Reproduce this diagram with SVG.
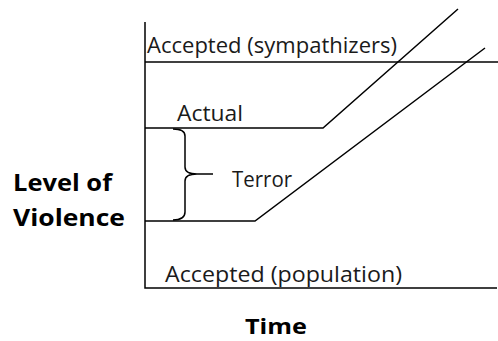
<svg xmlns="http://www.w3.org/2000/svg" width="498" height="341" viewBox="0 0 498 341">
<style>
.ln{stroke:#000;stroke-width:1.5;fill:none}
.t{font-family:"Open Sans","Liberation Sans",sans-serif;font-size:22.5px;fill:#1a1a1a}
.b{font-family:"Open Sans","Liberation Sans",sans-serif;font-size:23px;font-weight:bold;fill:#000}
</style>
<rect width="498" height="341" fill="#fff"/>
<g id="connectors">
<path class="ln" d="M145,22 V288 H497"/>
<path class="ln" d="M145,62 H498"/>
<path class="ln" d="M145,128 H323 L458,9"/>
<path class="ln" d="M145,221 H255 L485,48"/>
<path class="ln" d="M173,129 Q185,129 185,136 V167 Q185,174 197,174 H213 M197,174 Q185,174 185,181 V212 Q185,220 173,220"/>
</g>
<g id="labels">
<text class="t" x="147" y="53" textLength="250" lengthAdjust="spacingAndGlyphs">Accepted (sympathizers)</text>
<text class="t" x="177" y="121" textLength="66" lengthAdjust="spacingAndGlyphs">Actual</text>
<text class="t" x="232" y="187" textLength="60" lengthAdjust="spacingAndGlyphs">Terror</text>
<text class="t" x="165" y="282" textLength="237" lengthAdjust="spacingAndGlyphs">Accepted (population)</text>
<text class="b" x="13" y="191" textLength="99" lengthAdjust="spacingAndGlyphs">Level of</text>
<text class="b" x="13" y="226" textLength="112" lengthAdjust="spacingAndGlyphs">Violence</text>
<text class="b" x="245" y="334" textLength="62" lengthAdjust="spacingAndGlyphs" style="font-size:21px">Time</text>
</g>
</svg>
